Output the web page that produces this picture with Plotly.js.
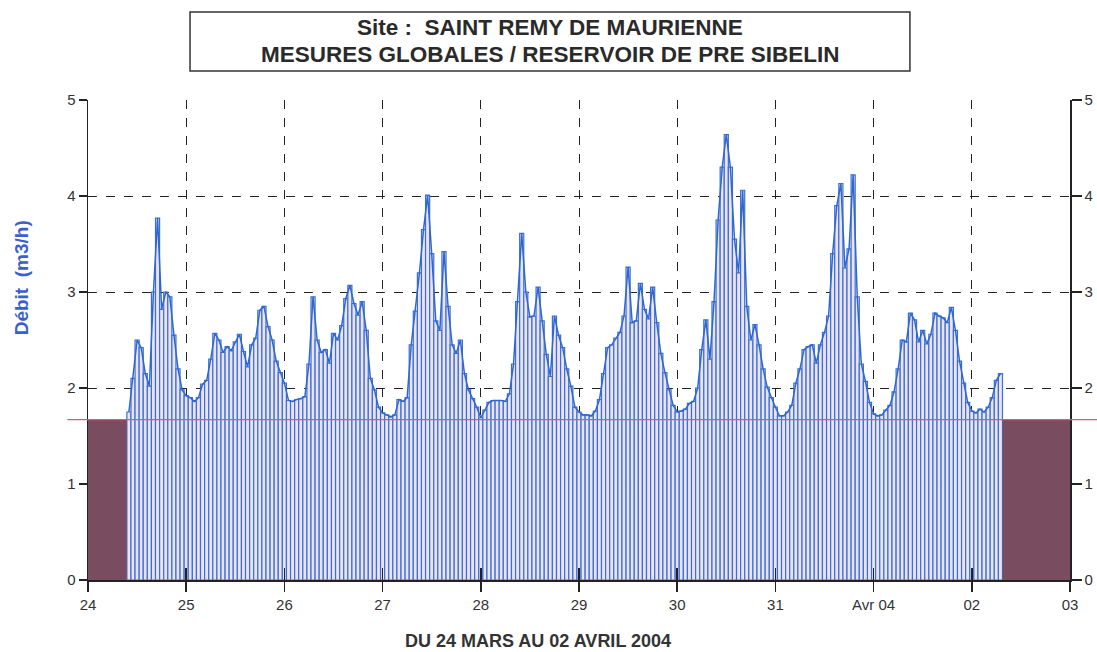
<!DOCTYPE html>
<html>
<head>
<meta charset="utf-8">
<script src="https://cdn.plot.ly/plotly-3.0.1.min.js"></script>
<style>html,body{margin:0;padding:0;background:#fff}#chart{width:1097px;height:652px}</style>
</head>
<body>
<div id="chart"></div>
<script>
// Hourly flow (m3/h), first sample on 24 March at 10:00
const startHour = 10;
const mar24 = [1.75,2.1,2.5,2.42,2.15,2.02,3.0,3.77,2.82,3.0,2.95,2.55,2.2,1.98];
const mar25 = [1.92,1.9,1.86,1.9,2.04,2.08,2.3,2.57,2.5,2.37,2.43,2.39,2.48,2.56,2.38,2.22,2.45,2.52,2.81,2.85,2.64,2.5,2.28,2.16];
const mar26 = [2.05,1.87,1.86,1.88,1.89,1.91,2.25,2.95,2.5,2.37,2.4,2.26,2.57,2.5,2.65,2.93,3.07,2.88,2.76,2.9,2.6,2.1,1.98,1.8];
const mar27 = [1.74,1.72,1.7,1.72,1.88,1.86,1.9,2.45,2.8,3.2,3.65,4.01,3.4,2.7,2.6,3.42,2.85,2.45,2.36,2.5,2.15,1.98,1.89,1.8];
const mar28 = [1.69,1.77,1.85,1.87,1.87,1.87,1.86,1.94,2.25,2.9,3.61,3.0,2.74,2.75,3.05,2.7,2.35,2.12,2.75,2.55,2.42,2.2,2.02,1.8];
const mar29 = [1.75,1.72,1.72,1.71,1.76,1.88,2.15,2.42,2.45,2.52,2.58,2.75,3.26,2.68,2.7,3.09,2.82,2.72,3.05,2.68,2.36,2.16,1.98,1.82];
const mar30 = [1.75,1.76,1.78,1.84,1.86,2.0,2.4,2.71,2.3,2.9,3.75,4.3,4.64,4.3,3.55,3.2,4.06,2.85,2.5,2.66,2.45,2.2,2.01,1.9];
const mar31 = [1.8,1.71,1.71,1.75,1.82,2.05,2.2,2.4,2.43,2.45,2.26,2.45,2.58,2.75,3.4,3.9,4.13,3.25,3.45,4.22,2.95,2.25,2.07,1.85];
const apr01 = [1.73,1.71,1.72,1.77,1.82,1.96,2.2,2.5,2.48,2.78,2.71,2.48,2.6,2.46,2.56,2.78,2.75,2.73,2.68,2.84,2.6,2.28,2.05,1.85];
const apr02 = [1.76,1.74,1.78,1.75,1.8,1.9,2.08,2.15];
const threshold = 1.67;
const tickLabels = ['24','25','26','27','28','29','30','31','Avr 04','02','03'];

const debit = [].concat(mar24,mar25,mar26,mar27,mar28,mar29,mar30,mar31,apr01,apr02);
const t = debit.map((v,i)=>(startHour+i)/24);   // days since 24 March 00:00
const nDays = tickLabels.length-1;
const firstT = t[0] - 0.5/24, lastT = t[t.length-1] + 0.5/24;

const bars = {
  type:'bar', x:t, y:debit, width:1/24,
  marker:{color:'#ebe2f4', line:{color:'#3a70d4', width:1.2}},
  hoverinfo:'skip', showlegend:false
};
const line = {
  type:'scatter', mode:'lines', x:t, y:debit, xaxis:'x2', yaxis:'y2',
  line:{color:'#2e68cf', width:1.5}, hoverinfo:'skip', showlegend:false
};

const FF = 'Liberation Sans, Arial, sans-serif';
const tickFont = {family:FF, size:15, color:'#333'};
const layout = {
  width:1097, height:652,
  margin:{l:88, r:27, t:100, b:72},
  paper_bgcolor:'#fff', plot_bgcolor:'#fff',
  bargap:0,
  xaxis:{range:[0,nDays], tickvals:tickLabels.map((_,i)=>i), ticktext:tickLabels,
    showline:true, linecolor:'#222', linewidth:1.5, mirror:false,
    ticks:'outside', ticklen:10, tickcolor:'#222', tickwidth:1.5,
    showgrid:true, gridcolor:'#222', griddash:'dash', gridwidth:1,
    zeroline:false, tickfont:tickFont, fixedrange:true},
  xaxis2:{overlaying:'x', anchor:'y', range:[0,nDays], tickvals:tickLabels.map((_,i)=>i),
    showticklabels:false, ticks:'inside', ticklen:12, tickcolor:'#222', tickwidth:1.5,
    showgrid:false, showline:false, zeroline:false, fixedrange:true},
  yaxis:{range:[0,5], dtick:1, showline:true, linecolor:'#222', linewidth:1.5,
    ticks:'outside', ticklen:8, tickcolor:'#222', tickwidth:1.5,
    showgrid:true, gridcolor:'#222', griddash:'dash', gridwidth:1,
    zeroline:false, tickfont:tickFont, fixedrange:true},
  yaxis2:{overlaying:'y', side:'right', anchor:'x2', range:[0,5], dtick:1,
    showline:true, linecolor:'#222', linewidth:1.5,
    ticks:'outside', ticklen:10, tickcolor:'#222', tickwidth:1.5,
    showgrid:false, zeroline:false, tickfont:tickFont, fixedrange:true},
  shapes:[
    {type:'rect', xref:'x', yref:'y', x0:0, x1:firstT, y0:0, y1:threshold,
      fillcolor:'#7a4c60', line:{width:0}, layer:'above'},
    {type:'rect', xref:'x', yref:'y', x0:lastT, x1:nDays, y0:0, y1:threshold,
      fillcolor:'#7a4c60', line:{width:0}, layer:'above'},
    {type:'line', xref:'paper', yref:'y', x0:-0.021, x1:1.03, y0:threshold, y1:threshold,
      line:{color:'#c7607e', width:1.3}, layer:'above'},
    {type:'rect', xref:'paper', yref:'paper', x0:0.1039, x1:0.837, y0:1.0604, y1:1.1833,
      fillcolor:'rgba(0,0,0,0)', line:{color:'#333', width:1.5}}
  ],
  annotations:[
    {xref:'paper', yref:'paper', x:0.4705, y:1.152, text:'Site :  SAINT REMY DE MAURIENNE',
      showarrow:false, xanchor:'center', yanchor:'middle',
      font:{family:FF, size:22.5, color:'#2a2a2a', weight:'bold'}},
    {xref:'paper', yref:'paper', x:0.4705, y:1.094, text:'MESURES GLOBALES / RESERVOIR DE PRE SIBELIN',
      showarrow:false, xanchor:'center', yanchor:'middle',
      font:{family:FF, size:22.5, color:'#2a2a2a', weight:'bold'}},
    {xref:'paper', yref:'paper', x:-0.068, y:0.629, text:'Débit&nbsp;&nbsp;(m3/h)', textangle:-90,
      showarrow:false, xanchor:'center', yanchor:'middle',
      font:{family:FF, size:19, color:'#3a5fcd', weight:'bold'}},
    {xref:'paper', yref:'paper', x:0.458, y:-0.127, text:'DU 24 MARS AU 02 AVRIL 2004',
      showarrow:false, xanchor:'center', yanchor:'middle',
      font:{family:FF, size:18, color:'#333', weight:'bold'}}
  ]
};
Plotly.newPlot('chart', [bars, line], layout, {staticPlot:true, displayModeBar:false});
</script>
</body>
</html>
